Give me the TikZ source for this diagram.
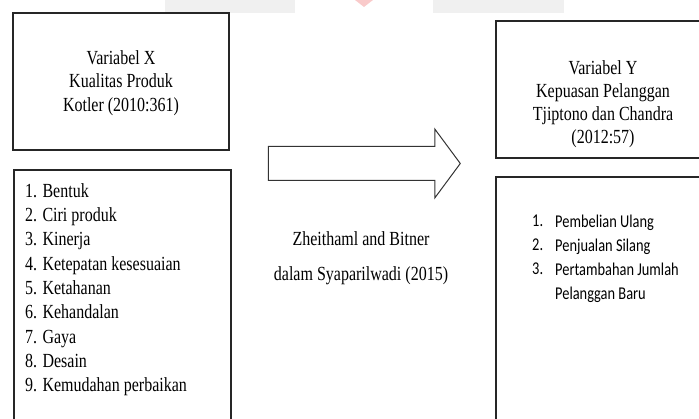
\documentclass[tikz,border=0pt]{standalone}
\usepackage{fontspec}
\setmainfont{Liberation Serif}[FakeStretch=0.8]
\newfontfamily\calibrifont{Carlito}[FakeStretch=0.8]
\usetikzlibrary{shapes.arrows}
\definecolor{wmgray}{HTML}{F0F0F0}
\definecolor{wmpink}{HTML}{F9CACA}
\tikzstyle{rect} = [rectangle, draw=black!85, line width=1.3pt, inner sep=0pt]
\tikzstyle{title} = [align=center, anchor=north, inner sep=0pt, font=\fontsize{20}{23.5}\selectfont]
\tikzstyle{items} = [align=left, anchor=north west, inner sep=0pt, font=\fontsize{20}{24.3}\selectfont]
\tikzstyle{itemsY} = [align=left, anchor=north west, inner sep=0pt, font=\calibrifont\fontsize{18}{24}\selectfont]
\tikzstyle{bigarrow} = [single arrow, draw=black!80, line width=1pt, inner xsep=0pt, inner ysep=16.5pt, minimum height=192pt, single arrow head extend=17.5pt, single arrow tip angle=107]

\begin{document}
\begin{tikzpicture}[x=1pt, y=-1pt]
        \useasboundingbox (0,0) rectangle (699,419);
        \clip (0,0) rectangle (699,419);
        % watermark bits at the top
        \fill[wmgray] (165,0) rectangle (295,13);
        \fill[wmgray] (433,0) rectangle (564,13);
        \fill[wmpink] (355,0) -- (373,0) -- (364,7) -- cycle;

        \node (boxX) [rect, minimum width=216pt, minimum height=137pt] at (121,81.5) {};
        \node (titleX) [title] at (121,50.3) {Variabel X\\Kualitas Produk\\Kotler (2010:361)};
        \node (listX) [rect, minimum width=217pt, minimum height=260pt] at (122.5,300) {};
        \node (itemsX) [items] at (25,183.3) {1. Bentuk\\2. Ciri produk\\3. Kinerja\\4. Ketepatan kesesuaian\\5. Ketahanan\\6. Kehandalan\\7. Gaya\\8. Desain\\9. Kemudahan perbaikan};

        \node (boxY) [rect, minimum width=214pt, minimum height=137pt] at (603,89.5) {};
        \node (titleY) [title, font=\fontsize{20}{23}\selectfont] at (603,60.3) {Variabel Y\\Kepuasan Pelanggan\\Tjiptono dan Chandra\\(2012:57)};
        \node (listY) [rect, minimum width=214pt, minimum height=253pt] at (603,303.5) {};
        \node (numY) [itemsY] at (532,215) {1.\\2.\\3.};
        \node (itemsY) [itemsY] at (555,215) {Pembelian Ulang\\Penjualan Silang\\Pertambahan Jumlah\\Pelanggan Baru};

        \node (arrowXY) [bigarrow] at (358,163.5) {};
        \node (source) [title, font=\fontsize{20}{35}\selectfont] at (361,231.3) {Zheithaml and Bitner\\dalam Syaparilwadi (2015)};
\end{tikzpicture}
\end{document}
